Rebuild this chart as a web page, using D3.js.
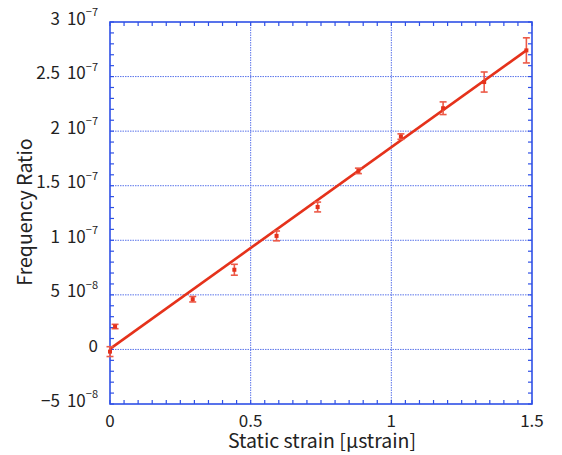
<!DOCTYPE html>
<html>
<head>
<meta charset="utf-8">
<script src="https://cdn.jsdelivr.net/npm/d3@7"></script>
<style>
body { margin: 0; background: #fff; }
text { font-family: "Noto Sans CJK JP", "Liberation Sans", sans-serif; fill: #222; }
</style>
</head>
<body>
<div class="content"></div>
<script>
// data
var strain = [0, 0.018, 0.294, 0.442, 0.592, 0.738, 0.883, 1.034, 1.184, 1.33, 1.48];
var ratio = [-0.2e-8, 2.1e-8, 4.6e-8, 7.3e-8, 10.4e-8, 13.05e-8, 16.36e-8, 19.5e-8, 22.1e-8, 24.5e-8, 27.4e-8];
var err = [0.45e-8, 0.2e-8, 0.25e-8, 0.5e-8, 0.45e-8, 0.45e-8, 0.25e-8, 0.25e-8, 0.58e-8, 0.92e-8, 1.15e-8];
var fitX = [0, 1.48];
var fitY = [0.05e-8, 27.4e-8];
var xTicks = [0, 0.5, 1, 1.5];
var yTicks = [-5e-8, 0, 5e-8, 1e-7, 1.5e-7, 2e-7, 2.5e-7, 3e-7];

var width = 562;
var height = 455;
var L = 110, R = 532, T = 22, B = 404;
var blue = "#2f50e6";
var red = "#e5321b";

var svg = d3.select(".content").append("svg").attr("width", width).attr("height", height);
var x = d3.scaleLinear().domain([0, 1.5]).range([L, R]);
var y = d3.scaleLinear().domain([-5e-8, 3e-7]).range([B, T]);

var xMinor = d3.range(0, 1.5001, 0.05);
var yMinor = d3.range(-5, 30.001, 1).map(function(d){ return d * 1e-8; });

// grid
svg.append("g").selectAll("line").data(xTicks.slice(1, -1)).enter().append("line")
	.attr("x1", function(d){ return x(d); }).attr("x2", function(d){ return x(d); })
	.attr("y1", T).attr("y2", B)
	.attr("stroke", "#5a74ea").attr("stroke-width", 1).attr("stroke-dasharray", "1.5,1");
svg.append("g").selectAll("line").data(yTicks.slice(1, -1)).enter().append("line")
	.attr("y1", function(d){ return y(d); }).attr("y2", function(d){ return y(d); })
	.attr("x1", L).attr("x2", R)
	.attr("stroke", "#5a74ea").attr("stroke-width", 1).attr("stroke-dasharray", "1.5,1");

// inward ticks on all four sides
var tk = svg.append("g").attr("stroke", blue).attr("stroke-width", 1.2);
xMinor.forEach(function(d){
	var len = 4;
	tk.append("line").attr("x1", x(d)).attr("x2", x(d)).attr("y1", B).attr("y2", B - len);
	tk.append("line").attr("x1", x(d)).attr("x2", x(d)).attr("y1", T).attr("y2", T + len);
});
yMinor.forEach(function(d){
	var len = 4;
	tk.append("line").attr("y1", y(d)).attr("y2", y(d)).attr("x1", L).attr("x2", L + len);
	tk.append("line").attr("y1", y(d)).attr("y2", y(d)).attr("x1", R).attr("x2", R - len);
});
svg.append("rect").attr("x", L).attr("y", T).attr("width", R - L).attr("height", B - T)
	.attr("fill", "none").attr("stroke", blue).attr("stroke-width", 1.6);

// tick labels
svg.append("g").selectAll("text").data(xTicks).enter().append("text")
	.attr("x", function(d){ return x(d); }).attr("y", 427)
	.attr("text-anchor", "middle").attr("font-size", 17)
	.text(function(d){ return d3.format("~g")(d); });

var yl = svg.append("g").selectAll("text").data(yTicks).enter().append("text")
	.attr("x", 98).attr("y", function(d){ return y(d) + 2.5; })
	.attr("text-anchor", "end").attr("font-size", 17);
yl.each(function(d){
	var t = d3.select(this);
	if (d === 0) { t.text("0"); return; }
	var e = Math.floor(Math.log10(Math.abs(d)) + 1e-9);
	var m = +(d / Math.pow(10, e)).toFixed(2);
	t.append("tspan").text(m < 0 ? "\u2212" + (-m) : m);
	t.append("tspan").attr("dx", 7).text("10");
	t.append("tspan").attr("font-size", 11).attr("dy", -8.5).text("\u2212" + (-e));
});

// axis titles
svg.append("text").attr("x", 322).attr("y", 448).attr("text-anchor", "middle")
	.attr("font-size", 19.5).text("Static strain [\u03bcstrain]");
svg.append("text").attr("transform", "translate(32,212) rotate(-90)")
	.attr("text-anchor", "middle").attr("font-size", 19.5).text("Frequency Ratio");

// fit line
var pts = fitX.map(function(d, i){ return [d, fitY[i]]; });
svg.append("path").datum(pts)
	.attr("d", d3.line().x(function(d){ return x(d[0]); }).y(function(d){ return y(d[1]); }))
	.attr("stroke", red).attr("stroke-width", 2.6).attr("fill", "none");

// error bars and markers
var g = svg.append("g");
strain.forEach(function(s, i){
	var cx = x(s), y0 = y(ratio[i] - err[i]), y1 = y(ratio[i] + err[i]);
	g.append("line").attr("x1", cx).attr("x2", cx).attr("y1", y0).attr("y2", y1)
		.attr("stroke", "#ec5a48").attr("stroke-width", 1.6);
	g.append("line").attr("x1", cx - 3.5).attr("x2", cx + 3.5).attr("y1", y0).attr("y2", y0)
		.attr("stroke", "#ec5a48").attr("stroke-width", 1.6);
	g.append("line").attr("x1", cx - 3.5).attr("x2", cx + 3.5).attr("y1", y1).attr("y2", y1)
		.attr("stroke", "#ec5a48").attr("stroke-width", 1.6);
	g.append("rect").attr("x", cx - 2).attr("y", y(ratio[i]) - 2).attr("width", 4).attr("height", 4)
		.attr("fill", red);
});
</script>
</body>
</html>
